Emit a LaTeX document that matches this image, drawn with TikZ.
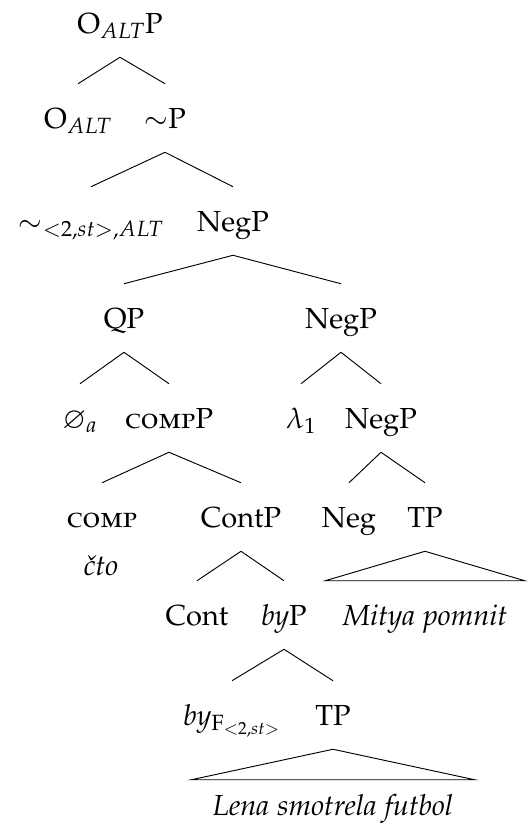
\documentclass[tikz,border=0pt]{standalone}
\usepackage[T1]{fontenc}
\usepackage[sc]{mathpazo}
\usepackage{amssymb}
\newcommand{\treefont}{\fontsize{21.75pt}{26pt}\selectfont}
\tikzset{
  cat/.style={anchor=base, inner sep=0pt, text height=33pt, text depth=18pt},
  gloss/.style={anchor=base, inner sep=0pt, font=\treefont\itshape},
  roofText/.style={cat, font=\treefont\itshape, inner xsep=11pt},
  branch/.style={draw=black, line width=0.7pt},
  roof/.style={branch, line join=miter}
}

\begin{document}
\begin{tikzpicture}[x=0.75pt, y=-0.75pt, font=\treefont]
\useasboundingbox (0,0) rectangle (531,833);

% ------------------------------------------------------------
% UPPER SPINE: O_ALT and the squiggle operator
% ------------------------------------------------------------
\node[cat] (oaltP) at (120,33)  {O$_{ALT}$P};
\node[cat] (oalt)  at (78,128)  {O$_{ALT}$};
\node[cat] (tildeP) at (165,128) {$\sim$P};
\node[cat] (tilde) at (91,231)  {$\sim_{<2,st>,ALT}$};
\node[cat] (negA)  at (233,231) {NegP};

\draw[branch] (oaltP.south) -- (oalt.north);
\draw[branch] (oaltP.south) -- (tildeP.north);
\draw[branch] (tildeP.south) -- (tilde.north);
\draw[branch] (tildeP.south) -- (negA.north);

% ------------------------------------------------------------
% QP / NegP split
% ------------------------------------------------------------
\node[cat] (qp)   at (124,328) {QP};
\node[cat] (negB) at (341,328) {NegP};

\draw[branch] (negA.south) -- (qp.north);
\draw[branch] (negA.south) -- (negB.north);

\node[cat] (empty) at (80,428)  {$\varnothing_a$};
\node[cat] (compP) at (169,428) {\textsc{comp}P};
\node[cat] (lam)   at (301,428) {$\lambda_1$};
\node[cat] (negC)  at (381,428) {NegP};

\draw[branch] (qp.south) -- (empty.north);
\draw[branch] (qp.south) -- (compP.north);
\draw[branch] (negB.south) -- (lam.north);
\draw[branch] (negB.south) -- (negC.north);

% ------------------------------------------------------------
% COMP side
% ------------------------------------------------------------
\node[cat, text depth=0pt] (comp) at (102,527) {\textsc{comp}};
\node[gloss] (cto) at (101,575) {\v{c}to};
\node[cat] (contP) at (241,527) {ContP};

\draw[branch] (compP.south) -- (comp.north);
\draw[branch] (compP.south) -- (contP.north);

\node[cat] (cont) at (197,625) {Cont};
\node[cat] (byP)  at (284,625) {\textit{by}P};

\draw[branch] (contP.south) -- (cont.north);
\draw[branch] (contP.south) -- (byP.north);

\node[cat] (byF) at (232,725) {\textit{by}$_{\mathrm{F}_{<2,st>}}$};
\node[cat] (tpB) at (333,725) {TP};

\draw[branch] (byP.south) -- (byF.north);
\draw[branch] (byP.south) -- (tpB.north);

\node[roofText, inner xsep=16pt, text height=26.25pt] (lena) at (333,815)
{Lena smotrela futbol};
\draw[roof] (tpB.south) -- (lena.north west) -- (lena.north east) -- cycle;

% ------------------------------------------------------------
% Neg side
% ------------------------------------------------------------
\node[cat] (neg) at (349,527) {Neg};
\node[cat] (tpA) at (425,527) {TP};

\draw[branch] (negC.south) -- (neg.north);
\draw[branch] (negC.south) -- (tpA.north);

\node[roofText, inner xsep=13pt] (mitya) at (425,625) {Mitya pomnit};
\draw[roof] (tpA.south) -- (mitya.north west) -- (mitya.north east) -- cycle;

\end{tikzpicture}
\end{document}
